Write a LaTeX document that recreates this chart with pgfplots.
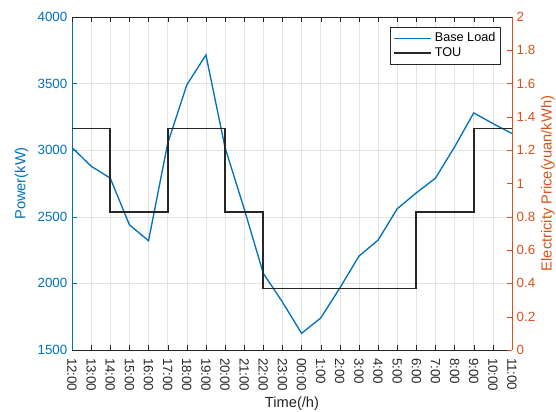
\documentclass[border=0pt]{standalone}
\usepackage{pgfplots}
\usepackage{pgfplotstable}
\pgfplotsset{compat=1.18}
\usepackage{fontspec}
\setmainfont{Liberation Sans}

\definecolor{mblue}{rgb}{0,0.447,0.741}
\definecolor{morange}{rgb}{0.85,0.325,0.098}
\definecolor{mdark}{rgb}{0.15,0.15,0.15}

% hour index 0 = 12:00, ..., 23 = 11:00
\pgfplotstableread{
h load
0 3020
1 2880
2 2790
3 2440
4 2320
5 3050
6 3490
7 3715
8 3020
9 2560
10 2075
11 1860
12 1625
13 1740
14 1965
15 2205
16 2325
17 2560
18 2680
19 2790
20 3025
21 3280
22 3200
23 3125
}\baseload

% time-of-use price, each value holds until the next breakpoint
\pgfplotstableread{
h price
0 1.33
2 0.83
5 1.33
8 0.83
10 0.37
18 0.83
21 1.33
23 1.33
}\tou

\pgfplotsset{
  common/.style={
    scale only axis, width=330pt, height=249.75pt,
    xmin=0, xmax=23,
    xtick={0,...,23},
    axis line style={-},
    tick align=inside,
    major tick length=3.5pt,
    /pgf/number format/assume math mode=true,
    /pgf/number format/1000 sep={},
    tick label style={font=\fontsize{10}{12}\selectfont},
    label style={font=\fontsize{11}{13}\selectfont},
  },
}

\begin{document}
\begin{tikzpicture}
\begin{axis}[
  common,
  ymin=1500, ymax=4000,
  ytick={1500,2000,2500,3000,3500,4000},
  axis x line*=bottom, axis y line*=left,
  x axis line style={draw=mdark},
  y axis line style={draw=mblue},
  xtick style={draw=mdark},
  ytick style={draw=mblue},
  xticklabels={12:00,13:00,14:00,15:00,16:00,17:00,18:00,19:00,20:00,21:00,22:00,23:00,00:00,1:00,2:00,3:00,4:00,5:00,6:00,7:00,8:00,9:00,10:00,11:00},
  xticklabel style={rotate=-90, anchor=west, text=mdark},
  xticklabel shift=2.5pt,
  yticklabel style={text=mblue},
  grid=major,
  grid style={draw=black!11, line width=0.4pt},
  xlabel={Time(/h)},
  xlabel style={text=mdark},
  xlabel shift=-3pt,
  ylabel={Power(kW)},
  ylabel style={text=mblue},
]
\coordinate (bl) at (rel axis cs:0,0);
\coordinate (tr) at (rel axis cs:1,1);
\addplot[color=mblue, line width=1pt] table[x=h, y=load] {\baseload};
\end{axis}

\begin{axis}[
  common,
  ymin=0, ymax=2,
  ytick={0,0.2,0.4,0.6,0.8,1,1.2,1.4,1.6,1.8,2},
  axis x line*=top, axis y line*=right,
  x axis line style={draw=mdark},
  y axis line style={draw=morange},
  xtick style={draw=mdark},
  ytick style={draw=morange},
  xticklabels={},
  yticklabel style={text=morange},
  ylabel={Electricity Price(yuan/kWh)},
  ylabel style={text=morange},
  ylabel shift=-2.5pt,
  legend style={at={(0.975,0.97)}, anchor=north east, draw=mdark,
    font=\fontsize{9.5}{11}\selectfont, inner sep=2pt, row sep=-1pt,
    cells={anchor=west}},
  legend image code/.code={\draw[#1] (0pt,0pt) -- (28pt,0pt);},
]
\addlegendimage{color=mblue, line width=1pt}
\addlegendentry{Base Load}
\addplot[const plot, color=mdark, line width=1.3pt] table[x=h, y=price] {\tou};
\addlegendentry{TOU}
\end{axis}

\pgfresetboundingbox
\path[use as bounding box] ([shift={(-54pt,-46.5pt)}]bl) rectangle ([shift={(33pt,12.75pt)}]tr);
\end{tikzpicture}
\end{document}
